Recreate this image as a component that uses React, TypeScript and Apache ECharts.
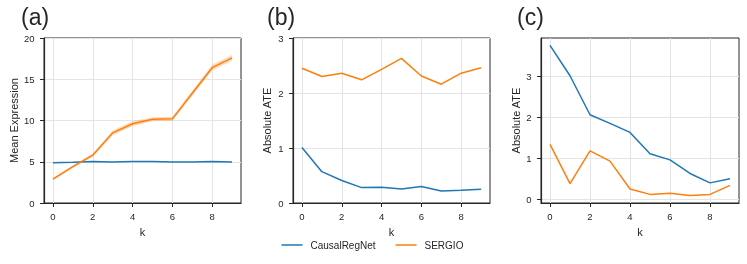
import React, { useEffect, useRef } from "react";
import * as echarts from "echarts";

const K = [0, 1, 2, 3, 4, 5, 6, 7, 8, 9];
const X_TICKS = [0, 2, 4, 6, 8];

// (a) Mean Expression
const meanCausal = [4.88, 4.93, 5.02, 4.98, 5.02, 5.02, 4.98, 4.96, 5.02, 4.98];
const meanSergio = [2.9, 4.4, 5.8, 8.5, 9.6, 10.15, 10.2, 13.3, 16.4, 17.6];
const meanSergioCI = [0.15, 0.15, 0.2, 0.3, 0.3, 0.25, 0.25, 0.3, 0.35, 0.35];
const Y_TICKS_A = [0, 5, 10, 15, 20];

// (b) Absolute ATE
const ateBCausal = [1.01, 0.57, 0.41, 0.28, 0.285, 0.255, 0.3, 0.22, 0.23, 0.25];
const ateBSergio = [2.45, 2.3, 2.36, 2.24, 2.43, 2.63, 2.31, 2.16, 2.36, 2.46];
const Y_TICKS_B = [0, 1, 2, 3];

// (c) Absolute ATE
const ateCCausal = [3.75, 3.01, 2.06, 1.85, 1.63, 1.11, 0.96, 0.63, 0.4, 0.5];
const ateCSergio = [1.34, 0.38, 1.18, 0.93, 0.25, 0.12, 0.15, 0.09, 0.12, 0.34];
const Y_TICKS_C = [0, 1, 2, 3];

const BLUE = "#1f77b4";
const ORANGE = "#ff7f0e";
const TXT = "#262626";
const FONT = "Liberation Sans";

const pairs = (ys: number[]) => K.map((k, i) => [k, ys[i]]);

function xAxis(gridIndex: number) {
  return {
    type: "value",
    gridIndex,
    min: -0.45,
    max: 9.45,
    name: "k",
    nameLocation: "middle",
    nameGap: 23,
    nameTextStyle: { color: TXT, fontFamily: FONT, fontSize: 11 },
    axisLine: { show: true, onZero: false, lineStyle: { color: TXT, width: 1.2 } },
    axisTick: { show: true, length: 4, customValues: X_TICKS, lineStyle: { color: TXT, width: 1 } },
    axisLabel: { customValues: X_TICKS, margin: 8, color: TXT, fontFamily: FONT, fontSize: 9.5 },
    splitLine: { show: true, lineStyle: { color: "#e4e4e4", width: 1 } },
  };
}

function yAxis(gridIndex: number, min: number, max: number, ticks: number[], name: string, gap: number) {
  return {
    type: "value",
    gridIndex,
    min,
    max,
    name,
    nameLocation: "middle",
    nameGap: gap,
    nameTextStyle: { color: TXT, fontFamily: FONT, fontSize: 11 },
    axisLine: { show: true, onZero: false, lineStyle: { color: TXT, width: 1.2 } },
    axisTick: { show: true, length: 4, customValues: ticks, lineStyle: { color: TXT, width: 1 } },
    axisLabel: { customValues: ticks, margin: 9.5, color: TXT, fontFamily: FONT, fontSize: 9.5 },
    splitLine: { show: true, lineStyle: { color: "#e4e4e4", width: 1 } },
  };
}

function line(name: string, color: string, xi: number, ys: number[]) {
  return {
    type: "line",
    name,
    xAxisIndex: xi,
    yAxisIndex: xi,
    data: pairs(ys),
    symbol: "none",
    lineStyle: { color, width: 1.5 },
    itemStyle: { color },
    z: 3,
  };
}

export default function App() {
  const ref = useRef<HTMLDivElement>(null);
  useEffect(() => {
    if (!ref.current) return;
    const chart = echarts.init(ref.current, undefined, { renderer: "svg" });
    const hi = meanSergio.map((v, i) => v + meanSergioCI[i]);
    const lo = meanSergio.map((v, i) => v - meanSergioCI[i]);
    const grids = [
      { left: 44, top: 38, width: 197, height: 165 },
      { left: 293, top: 38, width: 197, height: 165 },
      { left: 541, top: 38, width: 198, height: 165 },
    ].map((g) => ({ ...g, show: true, borderColor: TXT, borderWidth: 1, backgroundColor: "transparent" }));
    const labelStyle = { fontFamily: FONT, fontSize: 23, color: TXT, fontWeight: "normal" };
    chart.setOption({
      animation: false,
      textStyle: { fontFamily: FONT },
      title: [
        { text: "(a)", left: 21, top: 5, padding: 0, textStyle: labelStyle },
        { text: "(b)", left: 267, top: 5, padding: 0, textStyle: labelStyle },
        { text: "(c)", left: 517, top: 5, padding: 0, textStyle: labelStyle },
      ],
      grid: grids,
      xAxis: [xAxis(0), xAxis(1), xAxis(2)],
      yAxis: [
        yAxis(0, 0, 20, Y_TICKS_A, "Mean Expression", 25),
        yAxis(1, 0, 3, Y_TICKS_B, "Absolute ATE", 20.5),
        yAxis(2, -0.09, 3.93, Y_TICKS_C, "Absolute ATE", 20),
      ],
      legend: {
        data: ["CausalRegNet", "SERGIO"],
        left: 281.5,
        top: 240,
        padding: 0,
        icon: "rect",
        itemWidth: 21,
        itemHeight: 1.5,
        itemGap: 20,
        textStyle: { color: TXT, fontFamily: FONT, fontSize: 10, padding: [0, 0, 0, 3] },
      },
      series: [
        {
          type: "custom",
          name: "band",
          xAxisIndex: 0,
          yAxisIndex: 0,
          data: [[0, 0]],
          silent: true,
          z: 1,
          renderItem: (_params: any, api: any) => {
            const upper = K.map((k, i) => api.coord([k, hi[i]]));
            const lower = K.map((k, i) => api.coord([k, lo[i]])).reverse();
            return {
              type: "polygon",
              shape: { points: upper.concat(lower) },
              style: { fill: ORANGE, opacity: 0.28 },
            };
          },
        },
        line("CausalRegNet", BLUE, 0, meanCausal),
        line("SERGIO", ORANGE, 0, meanSergio),
        line("CausalRegNet", BLUE, 1, ateBCausal),
        line("SERGIO", ORANGE, 1, ateBSergio),
        line("CausalRegNet", BLUE, 2, ateCCausal),
        line("SERGIO", ORANGE, 2, ateCSergio),
      ],
    });
    return () => chart.dispose();
  }, []);
  return (
    <div
      ref={ref}
      style={{ position: "fixed", left: 0, top: 0, width: 747, height: 264 }}
    />
  );
}
